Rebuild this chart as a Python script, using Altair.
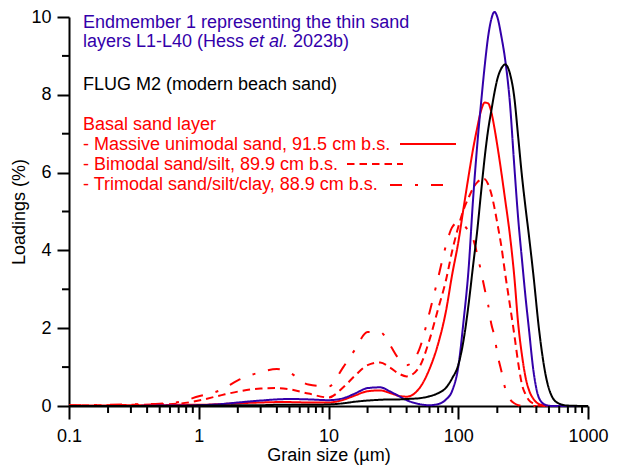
import altair as alt
import pandas as pd

# Grain size classes (µm) and loadings (%)
grain_size = [0.1, 0.2, 0.3, 0.5, 0.7, 1, 1.5, 2, 3, 4, 5, 7, 10, 13, 16, 20, 25, 30, 35, 40,
              50, 60, 70, 80, 90, 100, 110, 120, 130, 140, 150, 160, 170, 180, 190, 200,
              215, 230, 250, 270, 290, 310, 330, 350, 380, 420, 470, 530, 600, 700, 1000]

em1 = [0, 0, 0, 0.01, 0.01, 0.02, 0.05, 0.09, 0.14, 0.17, 0.18, 0.17,
       0.15, 0.2, 0.32, 0.46, 0.48, 0.37, 0.25, 0.15,
       0.05, 0.02, 0.05, 0.16, 0.4,
       1.0, 2.2, 3.5, 5.3, 6.7, 7.8, 8.75, 9.5, 9.95, 10.13,
       10.0, 9.5, 8.9, 7.8, 6.2, 4.8, 3.75, 2.8, 2.0, 0.9,
       0.2, 0.03, 0, 0, 0, 0]

flug_m2 = [0, 0, 0, 0, 0, 0.01, 0.01, 0.02, 0.02, 0.03, 0.03, 0.03,
           0.04, 0.07, 0.11, 0.14, 0.16, 0.17, 0.17, 0.18,
           0.2, 0.25, 0.33, 0.46, 0.72,
           1.05, 1.7, 2.6, 3.6, 4.5, 5.5, 6.4, 7.1, 7.6, 8.05,
           8.4, 8.68, 8.78, 8.55, 7.95, 6.9, 5.9, 5.1, 4.4, 3.35,
           1.95, 0.82, 0.23, 0.06, 0.01, 0]

massive = [0.01, 0.01, 0.02, 0.02, 0.03, 0.03, 0.05, 0.07, 0.09, 0.1, 0.1, 0.09,
           0.09, 0.16, 0.27, 0.38, 0.4, 0.33, 0.26, 0.24,
           0.45, 0.95, 1.6, 2.4, 3.4,
           4.2, 5.1, 5.9, 6.6, 7.15, 7.6, 7.8, 7.78, 7.55, 7.15,
           6.7, 6.0, 5.3, 4.4, 3.35, 2.1, 1.3, 0.74, 0.42, 0.18,
           0.05, 0.01, 0, 0, 0, 0]

bimodal = [0.01, 0.02, 0.03, 0.04, 0.06, 0.14, 0.28, 0.37, 0.45, 0.46, 0.43, 0.32,
           0.22, 0.48, 0.78, 1.05, 1.12, 0.98, 0.83, 0.76,
           1.0, 1.7, 2.5, 3.2, 4.0,
           4.6, 5.05, 5.35, 5.6, 5.75, 5.82, 5.83, 5.7, 5.45, 5.1,
           4.7, 4.1, 3.4, 2.6, 1.85, 1.1, 0.55, 0.3, 0.15, 0.06,
           0.01, 0, 0, 0, 0, 0]

trimodal = [0.01, 0.03, 0.04, 0.06, 0.1, 0.25, 0.42, 0.66, 0.87, 0.95, 0.86, 0.55,
            0.5, 1.0, 1.45, 1.9, 1.9, 1.55, 1.2, 1.05,
            1.45, 2.4, 3.3, 4.1, 4.6,
            4.72, 4.65, 4.5, 4.3, 3.9, 3.45, 3.0, 2.6, 2.1, 1.8,
            1.35, 0.9, 0.45, 0.18, 0.07, 0.02, 0, 0, 0, 0,
            0, 0, 0, 0, 0, 0]

series_names = ["Trimodal", "Bimodal", "Massive", "EM1", "FLUG M2"]
series_values = [trimodal, bimodal, massive, em1, flug_m2]
series_colors = ["#ff0000", "#ff0000", "#ff0000", "#3300aa", "#000000"]
series_dash = [[12, 13, 3, 13], [7.5, 5], [1, 0], [1, 0], [1, 0]]

x_major_ticks = [0.1, 1, 10, 100, 1000]
x_minor_ticks = [0.2, 0.3, 0.4, 0.5, 0.6, 0.7, 0.8, 0.9,
                 2, 3, 4, 5, 6, 7, 8, 9,
                 20, 30, 40, 50, 60, 70, 80, 90,
                 200, 300, 400, 500, 600, 700, 800, 900]
y_major_ticks = [0, 2, 4, 6, 8, 10]
y_minor_ticks = [1, 3, 5, 7, 9]

rows = []
for name, vals in zip(series_names, series_values):
    for d, v in zip(grain_size, vals):
        rows.append({"size": d, "loading": v, "series": name})
df = pd.DataFrame(rows)

FONT = "Liberation Sans"
RED = "#ff0000"
BLUE = "#3300aa"
W, H = 519, 389

x_scale = alt.Scale(type="log", domain=[0.1, 1000], nice=False)
y_scale = alt.Scale(domain=[0, 10], nice=False)

x_axis = alt.Axis(values=x_major_ticks, format="~g",
                  tickSize=13, tickWidth=2, tickColor="black",
                  domainWidth=2, domainColor="black",
                  labelFont=FONT, labelFontSize=18, labelColor="black",
                  labelFlush=False, labelOverlap=False, labelPadding=8,
                  title="Grain size (µm)", titleFont=FONT, titleFontSize=18,
                  titleFontWeight="normal", titleColor="black", titlePadding=1,
                  grid=False)
y_axis = alt.Axis(values=y_major_ticks, format="d",
                  tickSize=12, tickWidth=2, tickColor="black",
                  domainWidth=2, domainColor="black",
                  labelFont=FONT, labelFontSize=18, labelColor="black",
                  labelFlush=False, labelOverlap=False, labelPadding=6,
                  title="Loadings (%)", titleFont=FONT, titleFontSize=18,
                  titleFontWeight="normal", titleColor="black", titlePadding=2,
                  grid=False)

lines = alt.Chart(df).mark_line(strokeWidth=2, interpolate="monotone").encode(
    x=alt.X("size:Q", scale=x_scale, axis=x_axis),
    y=alt.Y("loading:Q", scale=y_scale, axis=y_axis),
    color=alt.Color("series:N", scale=alt.Scale(domain=series_names, range=series_colors), legend=None),
    strokeDash=alt.StrokeDash("series:N", scale=alt.Scale(domain=series_names, range=series_dash), legend=None),
    order=alt.Order("size:Q"),
)

x_minor = alt.Chart(pd.DataFrame({"size": x_minor_ticks})).mark_rule(
    color="black", strokeWidth=2).encode(
    x=alt.X("size:Q", scale=x_scale, axis=x_axis),
    y=alt.value(H), y2=alt.value(H + 7))

y_minor = alt.Chart(pd.DataFrame({"loading": y_minor_ticks})).mark_rule(
    color="black", strokeWidth=2).encode(
    y=alt.Y("loading:Q", scale=y_scale, axis=y_axis),
    x=alt.value(0), x2=alt.value(-7))

one = alt.Data(values=[{"a": 1}])


def label(text, x, y, color, style="normal"):
    return alt.Chart(one).mark_text(align="left", baseline="alphabetic", font=FONT, fontSize=18,
                                    color=color, fontStyle=style, text=text).encode(
        x=alt.value(x), y=alt.value(y))


def sample(x1, x2, y, dash):
    return alt.Chart(one).mark_rule(color=RED, strokeWidth=2, strokeDash=dash).encode(
        x=alt.value(x1), x2=alt.value(x2), y=alt.value(y))


texts = [
    label("Endmember 1 representing the thin sand", 14, 10.5, BLUE),
    label("layers L1-L40 (Hess", 14, 30, BLUE),
    label("et al.", 180, 30, BLUE, "italic"),
    label("2023b)", 224, 30, BLUE),
    label("FLUG M2 (modern beach sand)", 14, 72.5, "black"),
    label("Basal sand layer", 14, 112.5, RED),
    label("- Massive unimodal sand, 91.5 cm b.s.", 14, 133, RED),
    label("- Bimodal sand/silt, 89.9 cm b.s.", 14, 153, RED),
    label("- Trimodal sand/silt/clay, 88.9 cm b.s.", 14, 173, RED),
]
samples = [
    sample(331, 387, 127, [1, 0]),
    sample(278, 334, 147, [7.5, 5]),
    sample(321, 377, 168, [12, 13, 3, 13]),
]

chart = alt.layer(lines, x_minor, y_minor, *texts, *samples).properties(
    width=W, height=H,
    padding={"left": 61, "top": 9, "right": 21, "bottom": 59},
    autosize=alt.AutoSizeParams(type="none"),
).configure_view(stroke=None)

chart.save("out.html", embed_options={"renderer": "svg", "actions": False})
